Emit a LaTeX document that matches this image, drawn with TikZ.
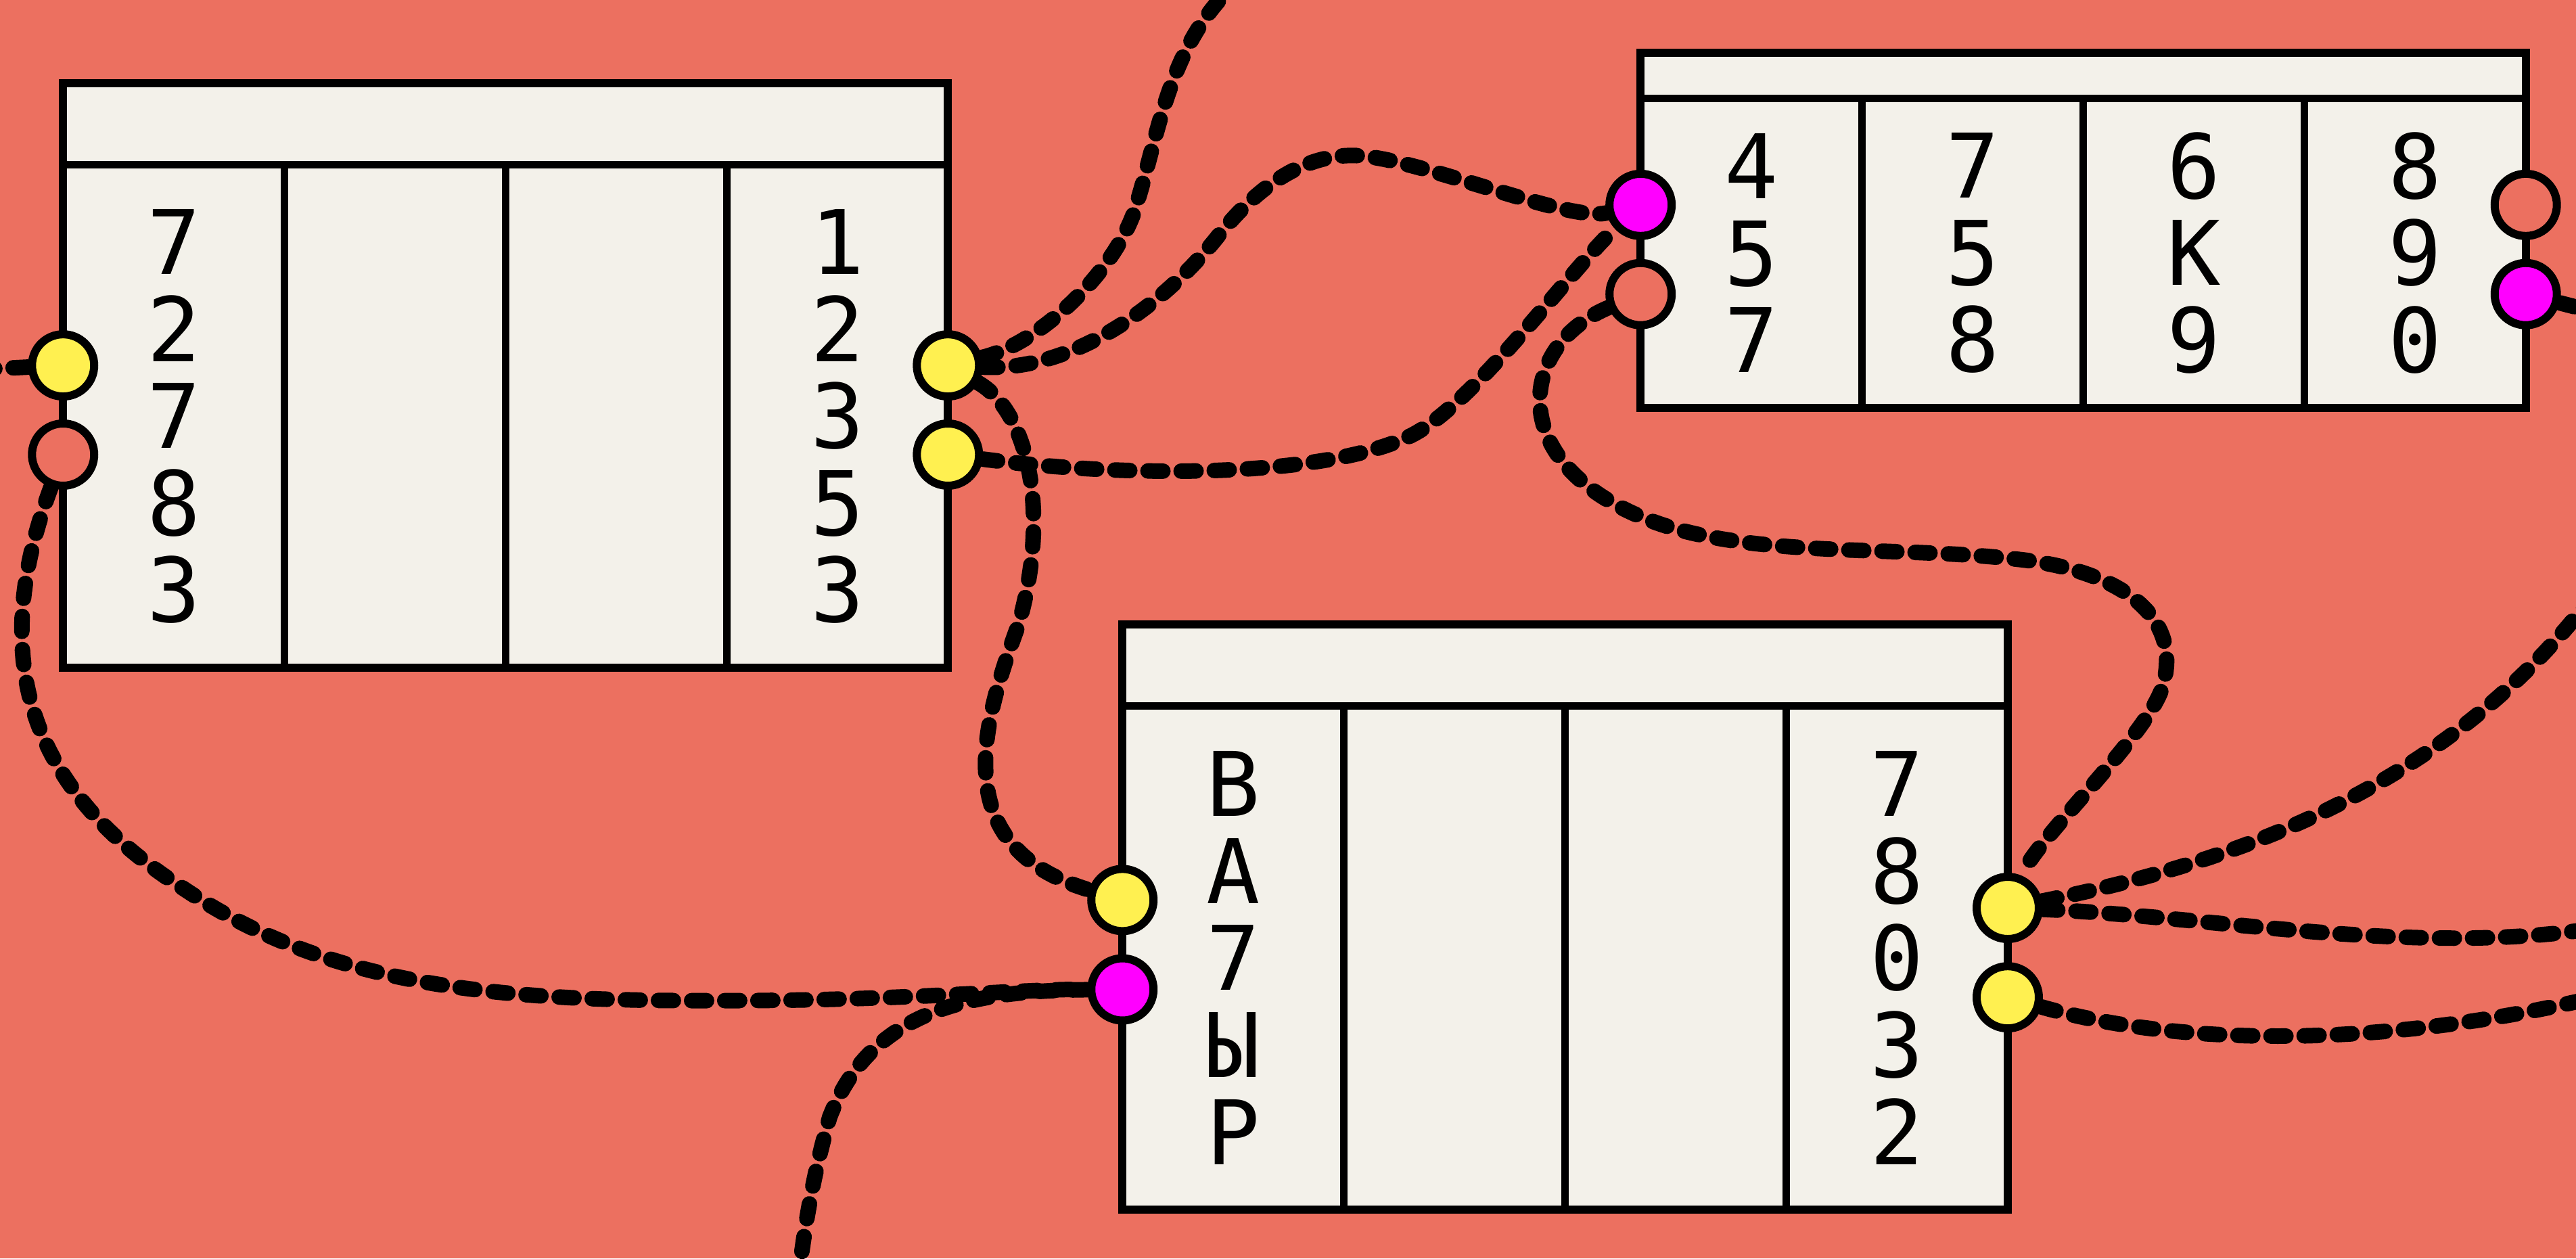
\documentclass[tikz,border=0pt]{standalone}
\usepackage{fontspec}
\newfontfamily\tabfont{DejaVu Sans Mono}
\definecolor{bgred}{RGB}{236,112,96}
\definecolor{paper}{RGB}{243,241,234}
\definecolor{portyellow}{RGB}{255,240,80}
\definecolor{portpink}{RGB}{255,0,255}
\tikzset{
  port/.style={circle, draw=black, line width=0.12cm, minimum size=0.92cm, inner sep=0pt},
  wire/.style={line width=0.23cm, line cap=round, dash pattern=on 0.22cm off 0.27cm},
  colnums/.style={font=\tabfont\fontsize{37.5}{36.6}\selectfont, align=center, inner sep=0pt},
  frame/.style={draw=black, line width=0.12cm, fill=paper},
  rule/.style={line width=0.11cm}
}

\begin{document}
\begin{tikzpicture}[x=0.024286cm, y=-0.024286cm]
  \fill[bgred] (0,0) rectangle (1568,766);
  \useasboundingbox (0,0) rectangle (1568,766);
  \clip (0,0) rectangle (1568,766);

  % table A (left)
  \draw[frame] (38.4,50.8) rectangle (577,406.5);
  \draw[rule] (38.4,100.4) -- (577,100.4);
  \foreach \i in {1,2,3} \draw[rule] (38.4+\i*134.65,100.4) -- (38.4+\i*134.65,406.5);
  \node[colnums] (ta1) at (105.7,253.5) {7\\2\\7\\8\\3};
  \node[colnums] (ta4) at (509.7,253.5) {1\\2\\3\\5\\3};

  % table B (top right)
  \draw[frame] (998.6,32.1) rectangle (1537.4,248.2);
  \draw[rule] (998.6,60) -- (1537.4,60);
  \foreach \i in {1,2,3} \draw[rule] (998.6+\i*134.7,60) -- (998.6+\i*134.7,248.2);
  \node[colnums] (tb1) at (1066,154) {4\\5\\7};
  \node[colnums] (tb2) at (1200.6,154) {7\\5\\8};
  \node[colnums] (tb3) at (1335.3,154) {6\\К\\9};
  \node[colnums] (tb4) at (1470,154) {8\\9\\0};

  % table C (bottom)
  \draw[frame] (683.2,380) rectangle (1222.1,736.4);
  \draw[rule] (683.2,429.7) -- (1222.1,429.7);
  \foreach \i in {1,2,3} \draw[rule] (683.2+\i*134.7,429.7) -- (683.2+\i*134.7,736.4);
  \node[colnums] (tc1) at (750.6,583) {В\\А\\7\\Ы\\Р};
  \node[colnums] (tc4) at (1154.8,583) {7\\8\\0\\3\\2};

  % ports
  \node[port, fill=portyellow] (aL1) at (38.4,222.4) {};
  \node[port, fill=bgred]      (aL2) at (38.4,276.7) {};
  \node[port, fill=portyellow] (aR1) at (577,222.4) {};
  \node[port, fill=portyellow] (aR2) at (577,276.7) {};
  \node[port, fill=portpink]   (bL1) at (998.6,124.7) {};
  \node[port, fill=bgred]      (bL2) at (998.6,179) {};
  \node[port, fill=bgred]      (bR1) at (1537.4,124.7) {};
  \node[port, fill=portpink]   (bR2) at (1537.4,179) {};
  \node[port, fill=portyellow] (cL1) at (683.2,547.8) {};
  \node[port, fill=portpink]   (cL2) at (683.2,602.2) {};
  \node[port, fill=portyellow] (cR1) at (1222.1,552.6) {};
  \node[port, fill=portyellow] (cR2) at (1222.1,607) {};

  % loose ends past the edge
  \coordinate (edgeW) at (-15,225);
  \coordinate (edgeN) at (750,-8);
  \coordinate (edgeS) at (486,778);
  \coordinate (edgeE1) at (1580,190);
  \coordinate (edgeE2) at (1580,360);
  \coordinate (edgeE3) at (1580,565);
  \coordinate (edgeE4) at (1580,607);

  % wires
  \draw[wire] (aL1) -- (edgeW);
  \draw[wire] (aL2) .. controls (0,380) and (0,470) .. (112,541)
                    .. controls (200,600) and (300,610) .. (446,609)
                    .. controls (550,609) and (620,602) .. (cL2);
  \draw[wire] (cL2) .. controls (590,603) and (530,615) .. (505,680)
                    .. controls (495,715) and (490,745) .. (edgeS);
  \draw[wire] (aR1) .. controls (630,210) and (675,170) .. (690,130)
                    .. controls (705,85) and (710,30) .. (edgeN);
  \draw[wire] (aR1) .. controls (650,226) and (705,190) .. (742,143)
                    .. controls (770,108) and (800,92) .. (830,95)
                    .. controls (870,99) and (955,135) .. (bL1);
  \draw[wire] (aR2) .. controls (680,290) and (800,292) .. (857,266)
                    .. controls (895,249) and (955,165) .. (bL1);
  \draw[wire] (aR1) .. controls (625,250) and (640,310) .. (620,380)
                    .. controls (598,440) and (575,515) .. (cL1);
  \draw[wire] (bL2) .. controls (925,210) and (915,280) .. (1000,315)
                    .. controls (1060,340) and (1150,332) .. (1224,340)
                    .. controls (1290,346) and (1330,375) .. (1316,419)
                    .. controls (1305,450) and (1240,510) .. (cR1);
  \draw[wire] (cR1) .. controls (1360,525) and (1490,480) .. (edgeE2);
  \draw[wire] (cR1) .. controls (1350,558) and (1470,582) .. (edgeE3);
  \draw[wire] (cR2) .. controls (1320,635) and (1440,640) .. (edgeE4);
  \draw[wire] (bR2) -- (edgeE1);
\end{tikzpicture}
\end{document}
